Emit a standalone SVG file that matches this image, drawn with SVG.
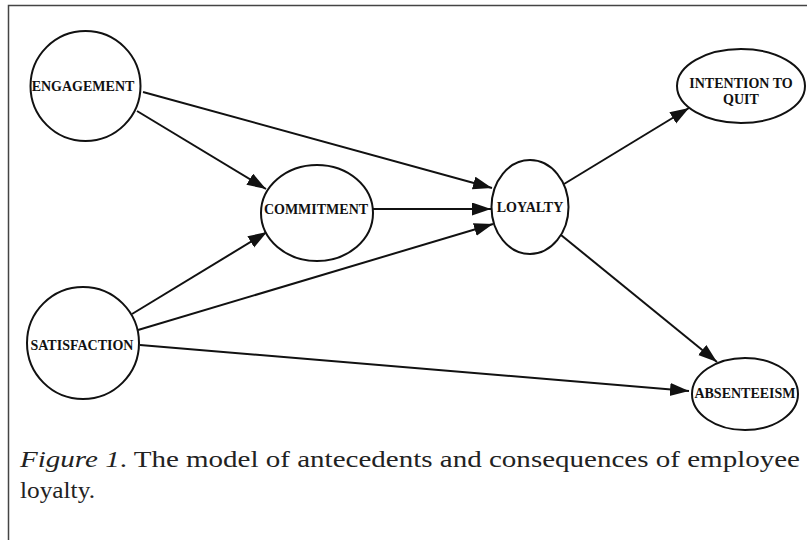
<svg xmlns="http://www.w3.org/2000/svg" width="807" height="540" viewBox="0 0 807 540">
<style>
.node{fill:#fff;stroke:#111;stroke-width:2}
.lbl{font-family:"Liberation Serif","Times New Roman",serif;font-weight:bold;font-size:14px;fill:#111;text-anchor:middle}
.edge{stroke:#111;stroke-width:2;fill:none;marker-end:url(#ah)}
.cap{font-family:"Liberation Serif","Times New Roman",serif;font-size:24px;fill:#222}
</style>
<defs>
<marker id="ah" markerUnits="userSpaceOnUse" markerWidth="20" markerHeight="14" refX="19" refY="6.5" orient="auto">
<path d="M0,0 L19,6.5 L0,13 Z" fill="#111"/>
</marker>
</defs>
<rect width="807" height="540" fill="#fff"/>
<path d="M8.5,540 V5.5 H807" fill="none" stroke="#444" stroke-width="1.5"/>
<g id="connectors">
<line class="edge" x1="143" y1="92" x2="492" y2="188"/>
<line class="edge" x1="137" y1="111" x2="266" y2="189"/>
<line class="edge" x1="373" y1="209" x2="491" y2="209"/>
<line class="edge" x1="132" y1="314" x2="267" y2="232"/>
<line class="edge" x1="138" y1="330" x2="493" y2="224"/>
<line class="edge" x1="140" y1="345" x2="689" y2="391"/>
<line class="edge" x1="564" y1="184" x2="689" y2="108"/>
<line class="edge" x1="561" y1="235" x2="717" y2="362"/>
</g>
<g id="engagement">
<circle class="node" cx="85.5" cy="86" r="55"/>
<text class="lbl" x="83" y="91">ENGAGEMENT</text>
</g>
<g id="satisfaction">
<circle class="node" cx="83" cy="343" r="56"/>
<text class="lbl" x="82" y="350">SATISFACTION</text>
</g>
<g id="commitment">
<ellipse class="node" cx="317" cy="213" rx="56" ry="48"/>
<text class="lbl" x="316" y="214">COMMITMENT</text>
</g>
<g id="loyalty">
<ellipse class="node" cx="530" cy="207" rx="38.5" ry="47"/>
<text class="lbl" x="530" y="212">LOYALTY</text>
</g>
<g id="intention">
<ellipse class="node" cx="741" cy="86" rx="64" ry="37"/>
<text class="lbl" x="741" y="88">INTENTION TO</text>
<text class="lbl" x="741" y="104">QUIT</text>
</g>
<g id="absenteeism">
<ellipse class="node" cx="745" cy="394" rx="53" ry="36"/>
<text class="lbl" x="745" y="398">ABSENTEEISM</text>
</g>
<text class="cap" x="20" y="467" textLength="780" lengthAdjust="spacingAndGlyphs"><tspan font-style="italic">Figure 1</tspan>. The model of antecedents and consequences of employee</text>
<text class="cap" x="20" y="498" textLength="75" lengthAdjust="spacingAndGlyphs">loyalty.</text>
</svg>
